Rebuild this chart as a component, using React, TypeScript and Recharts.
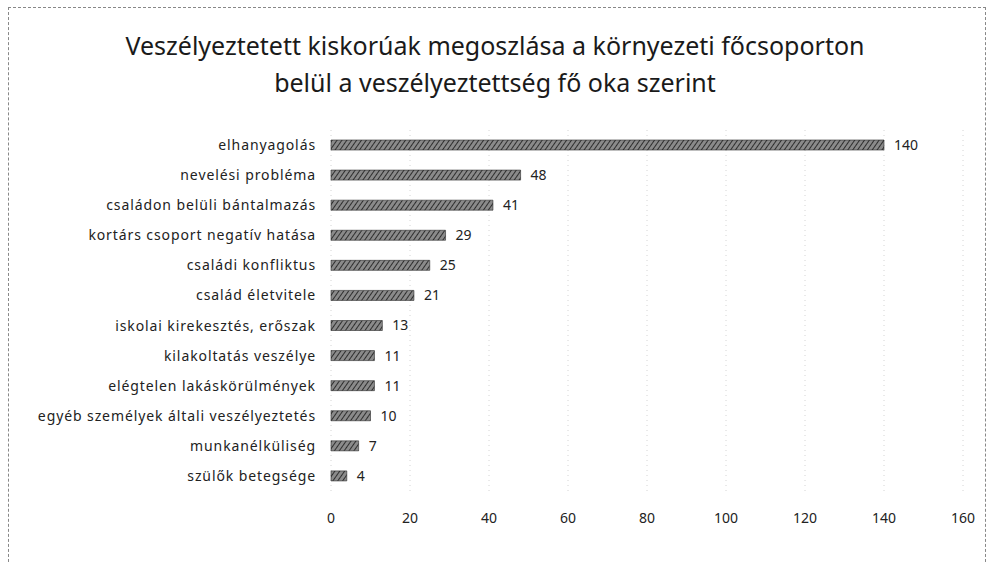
import React from 'react'
import { BarChart, Bar, XAxis, YAxis, CartesianGrid, LabelList } from 'recharts'

const categories = [
  'elhanyagolás',
  'nevelési probléma',
  'családon belüli bántalmazás',
  'kortárs csoport negatív hatása',
  'családi konfliktus',
  'család életvitele',
  'iskolai kirekesztés, erőszak',
  'kilakoltatás veszélye',
  'elégtelen lakáskörülmények',
  'egyéb személyek általi veszélyeztetés',
  'munkanélküliség',
  'szülők betegsége',
]
const counts = [140, 48, 41, 29, 25, 21, 13, 11, 11, 10, 7, 4]
const xTicks = [0, 20, 40, 60, 80, 100, 120, 140, 160]

const data = categories.map((name, i) => ({ name, value: counts[i] }))

const font = '"Noto Sans", "Open Sans", sans-serif'

export default function App() {
  return (
    <div style={{ position: 'absolute', left: 0, top: 0, width: 990, height: 562, background: '#fff', fontFamily: font }}>
      {/* scanned frame */}
      <div style={{ position: 'absolute', left: 8, top: 7, width: 978, height: 560, border: '1px dashed #888', boxSizing: 'border-box' }} />
      <div style={{ position: 'absolute', left: 0, top: 27, width: 990, textAlign: 'center', fontSize: 25, lineHeight: '37px', color: '#1a1a1a' }}>
        Veszélyeztetett kiskorúak megoszlása a környezeti főcsoporton
        <br />
        belül a veszélyeztettség fő oka szerint
      </div>
      <div style={{ position: 'absolute', left: 0, top: 0 }}>
        <BarChart
          width={990}
          height={562}
          data={data}
          layout="vertical"
          margin={{ top: 130, right: 27, bottom: 41, left: 0 }}
          barCategoryGap={10}
        >
          <defs>
            <pattern id="hatch" width="4" height="4" patternUnits="userSpaceOnUse" patternTransform="rotate(35)">
              <rect width="4" height="4" fill="#8a8a8a" />
              <line x1="0" y1="0" x2="0" y2="4" stroke="#2e2e2e" strokeWidth="2" />
            </pattern>
          </defs>
          <CartesianGrid horizontal={false} stroke="#d4d4d4" strokeDasharray="1 4" />
          <XAxis
            type="number"
            domain={[0, 160]}
            ticks={xTicks}
            axisLine={false}
            tickLine={false}
            height={30}
            tickMargin={16}
            tick={{ fontSize: 14, fill: '#222', fontFamily: font }}
          />
          <YAxis
            type="category"
            dataKey="name"
            width={331}
            axisLine={false}
            tickLine={false}
            tickMargin={9}
            interval={0}
            tick={{ fontSize: 14, fill: '#222', fontFamily: font, letterSpacing: 0.9 }}
          />
          <Bar dataKey="value" fill="url(#hatch)" stroke="#2a2a2a" strokeWidth={0.6} barSize={10} isAnimationActive={false}>
            <LabelList dataKey="value" position="right" offset={10} style={{ fontSize: 14, fill: '#222', fontFamily: font }} />
          </Bar>
        </BarChart>
      </div>
    </div>
  )
}
